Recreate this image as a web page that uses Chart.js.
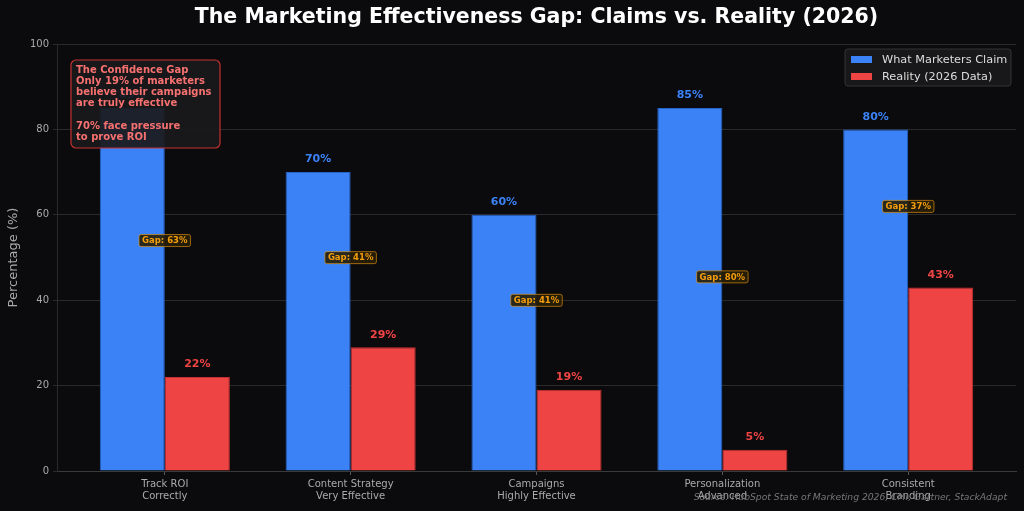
<!DOCTYPE html>
<html>
<head>
<meta charset="utf-8">
<script src="https://cdn.jsdelivr.net/npm/chart.js@4"></script>
<style>
  html, body { margin: 0; padding: 0; background: #0b0b0d; }
  #wrap { width: 1024px; height: 511px; }
</style>
</head>
<body>
<div id="wrap"><canvas id="chart" width="1024" height="511"></canvas></div>
<script>
// --- data ---
const categories = [
    ['Track ROI', 'Correctly'],
    ['Content Strategy', 'Very Effective'],
    ['Campaigns', 'Highly Effective'],
    ['Personalization', 'Advanced'],
    ['Consistent', 'Branding']
];
const claimValues = [85, 70, 60, 85, 80];
const realityValues = [22, 29, 19, 5, 43];
const gapValues = [63, 41, 41, 80, 37];
const yTicks = [0, 20, 40, 60, 80, 100];
const noteLines = [
    'The Confidence Gap',
    'Only 19% of marketers',
    'believe their campaigns',
    'are truly effective',
    '',
    '70% face pressure',
    'to prove ROI'
];

const FONT = "'DejaVu Sans', sans-serif";
const BLUE = '#3b82f6';
const RED = '#ef4444';

function roundRect(ctx, x, y, w, h, r) {
    ctx.beginPath();
    ctx.moveTo(x + r, y);
    ctx.arcTo(x + w, y, x + w, y + h, r);
    ctx.arcTo(x + w, y + h, x, y + h, r);
    ctx.arcTo(x, y + h, x, y, r);
    ctx.arcTo(x, y, x + w, y, r);
    ctx.closePath();
}

// labels on bars, gap tags, note box, legend, title and source line
const overlayPlugin = {
    id: 'overlay',
    beforeDraw(chart) {
        const ctx = chart.ctx;
        ctx.save();
        ctx.fillStyle = '#0b0b0d';
        ctx.fillRect(0, 0, chart.width, chart.height);
        ctx.restore();
    },
    afterDatasetsDraw(chart) {
        const ctx = chart.ctx;
        const claimMeta = chart.getDatasetMeta(0);
        const realMeta = chart.getDatasetMeta(1);
        const y = chart.scales.y;
        ctx.save();
        ctx.textAlign = 'center';
        ctx.textBaseline = 'bottom';
        ctx.font = `bold 11px ${FONT}`;
        claimMeta.data.forEach((bar, i) => {
            ctx.fillStyle = BLUE;
            ctx.fillText(claimValues[i] + '%', bar.x, bar.y - 7);
        });
        realMeta.data.forEach((bar, i) => {
            ctx.fillStyle = RED;
            ctx.fillText(realityValues[i] + '%', bar.x, bar.y - 7);
        });

        // gap tags at the midpoint between the two bars
        ctx.font = `bold 8.5px ${FONT}`;
        ctx.textBaseline = 'middle';
        claimMeta.data.forEach((bar, i) => {
            const cx = chart.scales.x.getPixelForValue(i);
            const cy = y.getPixelForValue((claimValues[i] + realityValues[i]) / 2) - 2;
            const txt = 'Gap: ' + gapValues[i] + '%';
            const w = ctx.measureText(txt).width + 6;
            const h = 12;
            roundRect(ctx, cx - w / 2, cy - h / 2, w, h, 2);
            ctx.fillStyle = 'rgba(40, 30, 8, 0.9)';
            ctx.fill();
            ctx.strokeStyle = 'rgba(245, 158, 11, 0.6)';
            ctx.lineWidth = 1;
            ctx.stroke();
            ctx.fillStyle = '#f59e0b';
            ctx.fillText(txt, cx, cy + 0.5);
        });
        ctx.restore();
    },
    afterDraw(chart) {
        const ctx = chart.ctx;
        const area = chart.chartArea;
        ctx.save();

        // note box (top left)
        const bx = area.left + 14, by = area.top + 16, bw = 149, bh = 88;
        roundRect(ctx, bx, by, bw, bh, 5);
        ctx.fillStyle = 'rgba(26, 26, 28, 0.93)';
        ctx.fill();
        ctx.strokeStyle = '#c53030';
        ctx.lineWidth = 1.2;
        ctx.stroke();
        ctx.fillStyle = '#f87171';
        ctx.font = `bold 10px ${FONT}`;
        ctx.textAlign = 'left';
        ctx.textBaseline = 'middle';
        noteLines.forEach((line, i) => {
            ctx.fillText(line, bx + 5, by + 10 + i * 11.3);
        });

        // legend (top right)
        const lw = 166, lh = 37;
        const lx = area.right - lw - 5, ly = area.top + 5;
        roundRect(ctx, lx, ly, lw, lh, 3);
        ctx.fillStyle = 'rgba(26, 26, 28, 0.9)';
        ctx.fill();
        ctx.strokeStyle = '#333';
        ctx.lineWidth = 1;
        ctx.stroke();
        ctx.font = `11.3px ${FONT}`;
        chart.data.datasets.forEach((ds, i) => {
            const ry = ly + 10 + i * 17;
            ctx.fillStyle = ds.backgroundColor;
            ctx.fillRect(lx + 6, ry - 3, 21, 7);
            ctx.fillStyle = '#dddddd';
            ctx.fillText(ds.label, lx + 37, ry + 1);
        });

        // title
        ctx.fillStyle = '#ffffff';
        ctx.font = `bold 20.5px ${FONT}`;
        ctx.textAlign = 'center';
        ctx.fillText('The Marketing Effectiveness Gap: Claims vs. Reality (2026)', (area.left + area.right) / 2, 18);

        // source
        ctx.fillStyle = '#777777';
        ctx.font = `italic 9.2px ${FONT}`;
        ctx.textAlign = 'right';
        ctx.fillText('Source: HubSpot State of Marketing 2026, CMI, Gartner, StackAdapt', 1007, 498);
        ctx.restore();
    }
};

new Chart(document.getElementById('chart'), {
    type: 'bar',
    data: {
        datasets: [{
            label: 'What Marketers Claim',
            data: claimValues.map((v, i) => ({ x: i, y: v })),
            backgroundColor: BLUE,
            borderColor: '#2563c9',
            borderWidth: 1
        }, {
            label: 'Reality (2026 Data)',
            data: realityValues.map((v, i) => ({ x: i, y: v })),
            backgroundColor: RED,
            borderColor: '#c53030',
            borderWidth: 1
        }]
    },
    options: {
        responsive: false,
        animation: false,
        categoryPercentage: 0.7,
        barPercentage: 1.0,
        layout: { padding: { top: 44, right: 8, left: 6, bottom: 0 } },
        plugins: {
            legend: { display: false },
            title: { display: false },
            tooltip: { enabled: false }
        },
        scales: {
            x: {
                type: 'linear',
                min: -0.58,
                max: 4.58,
                offset: false,
                afterBuildTicks: (scale) => {
                    scale.ticks = categories.map((c, i) => ({ value: i }));
                },
                afterFit: (scale) => { scale.height = 40; },
                ticks: {
                    color: '#aaaaaa',
                    font: { family: FONT, size: 10 },
                    padding: 3,
                    maxRotation: 0,
                    autoSkip: false,
                    callback: (v) => categories[v] || ''
                },
                grid: { offset: false, drawOnChartArea: false, color: '#555', tickLength: 4 },
                border: { color: '#3a3a3a' }
            },
            y: {
                min: 0,
                max: 100,
                afterBuildTicks: (scale) => {
                    scale.ticks = yTicks.map(v => ({ value: v }));
                },
                afterFit: (scale) => { scale.width = 51; },
                ticks: {
                    color: '#aaaaaa',
                    font: { family: FONT, size: 10 },
                    padding: 4
                },
                grid: { color: '#2a2a2a', tickLength: 4 },
                border: { color: '#2a2a2a' },
                title: {
                    display: true,
                    text: 'Percentage (%)',
                    color: '#aaaaaa',
                    font: { family: FONT, size: 13 },
                    padding: 0
                }
            }
        }
    },
    plugins: [overlayPlugin]
});
</script>
</body>
</html>
